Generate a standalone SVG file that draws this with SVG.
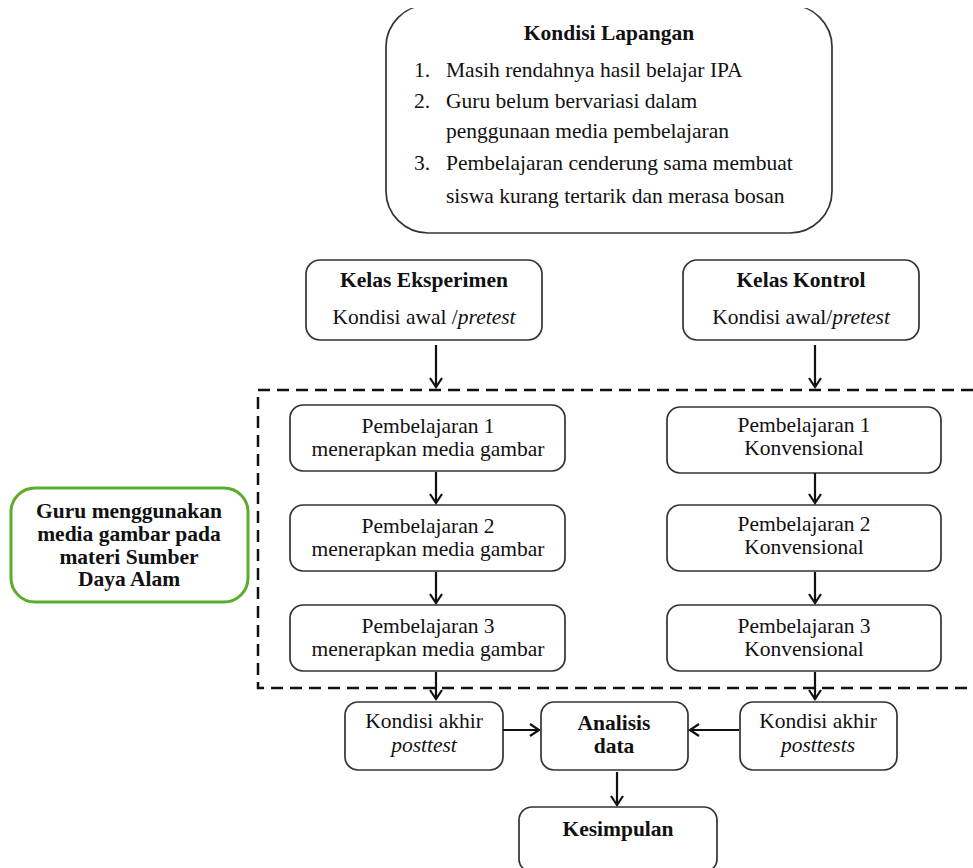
<svg xmlns="http://www.w3.org/2000/svg" width="973" height="868" viewBox="0 0 973 868">
<style>
.box{fill:#fff;stroke:#333;stroke-width:1.7}
.t{font-family:"Times New Roman","Liberation Serif",Tinos,serif;font-size:21.5px;fill:#111;text-anchor:middle}
.b{font-weight:bold}
.i{font-style:italic}
.tl{font-family:"Times New Roman","Liberation Serif",Tinos,serif;font-size:21.5px;fill:#111}
.arr{stroke:#111;stroke-width:2.2;fill:none;marker-end:url(#ah)}
</style>
<defs>
<marker id="ah" markerUnits="userSpaceOnUse" markerWidth="16" markerHeight="16" refX="11" refY="7" orient="auto">
<path d="M2,1 L11,7 L2,13" fill="none" stroke="#111" stroke-width="2.2"/>
</marker>
</defs>
<rect width="973" height="868" fill="#fff"/>

<g id="kondisi-lapangan">
<rect class="box" x="386" y="5" width="446" height="228" rx="42"/>
<rect x="380" y="0" width="460" height="8" fill="#fff"/>
<text class="t b" x="609" y="40">Kondisi Lapangan</text>
<text class="tl" x="414" y="77">1.</text>
<text class="tl" x="446" y="77">Masih rendahnya hasil belajar IPA</text>
<text class="tl" x="414" y="108">2.</text>
<text class="tl" x="446" y="108">Guru belum bervariasi dalam</text>
<text class="tl" x="446" y="138">penggunaan media pembelajaran</text>
<text class="tl" x="414" y="170">3.</text>
<text class="tl" x="446" y="170">Pembelajaran cenderung sama membuat</text>
<text class="tl" x="446" y="203">siswa kurang tertarik dan merasa bosan</text>
</g>

<g id="kelas-eksperimen">
<rect class="box" x="306" y="260" width="236" height="80" rx="14"/>
<text class="t b" x="424" y="287">Kelas Eksperimen</text>
<text class="t" x="424" y="324">Kondisi awal /<tspan class="i">pretest</tspan></text>
</g>

<g id="kelas-kontrol">
<rect class="box" x="683" y="260" width="236" height="80" rx="14"/>
<text class="t b" x="801" y="287">Kelas Kontrol</text>
<text class="t" x="801" y="324">Kondisi awal/<tspan class="i">pretest</tspan></text>
</g>

<g id="perlakuan">
<path d="M973,390 H258 V688 H973" fill="none" stroke="#111" stroke-width="2.5" stroke-dasharray="12 7"/>
</g>

<g id="guru">
<rect x="11" y="488" width="237" height="114" rx="24" fill="#fff" stroke="#5aad2a" stroke-width="3"/>
<text class="t b" x="129" y="518">Guru menggunakan</text>
<text class="t b" x="129" y="541">media gambar pada</text>
<text class="t b" x="129" y="564">materi Sumber</text>
<text class="t b" x="129" y="586">Daya Alam</text>
</g>

<g id="eks-p1">
<rect class="box" x="290" y="405" width="275" height="66" rx="13"/>
<text class="t" x="428" y="433">Pembelajaran 1</text>
<text class="t" x="428" y="456">menerapkan media gambar</text>
</g>
<g id="eks-p2">
<rect class="box" x="290" y="505" width="275" height="66" rx="13"/>
<text class="t" x="428" y="533">Pembelajaran 2</text>
<text class="t" x="428" y="556">menerapkan media gambar</text>
</g>
<g id="eks-p3">
<rect class="box" x="290" y="605" width="275" height="66" rx="13"/>
<text class="t" x="428" y="633">Pembelajaran 3</text>
<text class="t" x="428" y="656">menerapkan media gambar</text>
</g>

<g id="kon-p1">
<rect class="box" x="667" y="407" width="274" height="66" rx="13"/>
<text class="t" x="804" y="432">Pembelajaran 1</text>
<text class="t" x="804" y="455">Konvensional</text>
</g>
<g id="kon-p2">
<rect class="box" x="667" y="505" width="274" height="66" rx="13"/>
<text class="t" x="804" y="531">Pembelajaran 2</text>
<text class="t" x="804" y="554">Konvensional</text>
</g>
<g id="kon-p3">
<rect class="box" x="667" y="605" width="274" height="66" rx="13"/>
<text class="t" x="804" y="633">Pembelajaran 3</text>
<text class="t" x="804" y="656">Konvensional</text>
</g>

<g id="akhir-eks">
<rect class="box" x="345" y="702" width="158" height="68" rx="13"/>
<text class="t" x="424" y="728">Kondisi akhir</text>
<text class="t i" x="424" y="752">posttest</text>
</g>
<g id="analisis">
<rect class="box" x="541" y="702" width="147" height="68" rx="13"/>
<text class="t b" x="614" y="730">Analisis</text>
<text class="t b" x="614" y="753">data</text>
</g>
<g id="akhir-kon">
<rect class="box" x="740" y="702" width="157" height="68" rx="13"/>
<text class="t" x="818" y="728">Kondisi akhir</text>
<text class="t i" x="818" y="752">posttests</text>
</g>
<g id="kesimpulan">
<rect class="box" x="519" y="807" width="198" height="65" rx="13"/>
<text class="t b" x="618" y="836">Kesimpulan</text>
</g>

<g id="connectors">
<line class="arr" x1="436" y1="345" x2="436" y2="387"/>
<line class="arr" x1="815" y1="345" x2="815" y2="387"/>
<line class="arr" x1="436" y1="472" x2="436" y2="503"/>
<line class="arr" x1="436" y1="572" x2="436" y2="603"/>
<line class="arr" x1="815" y1="473" x2="815" y2="503"/>
<line class="arr" x1="815" y1="572" x2="815" y2="603"/>
<line class="arr" x1="436" y1="672" x2="436" y2="699"/>
<line class="arr" x1="815" y1="672" x2="815" y2="699"/>
<line class="arr" x1="503" y1="730" x2="539" y2="730"/>
<line class="arr" x1="739" y1="730" x2="690" y2="730"/>
<line class="arr" x1="617" y1="772" x2="617" y2="805"/>
</g>
</svg>
